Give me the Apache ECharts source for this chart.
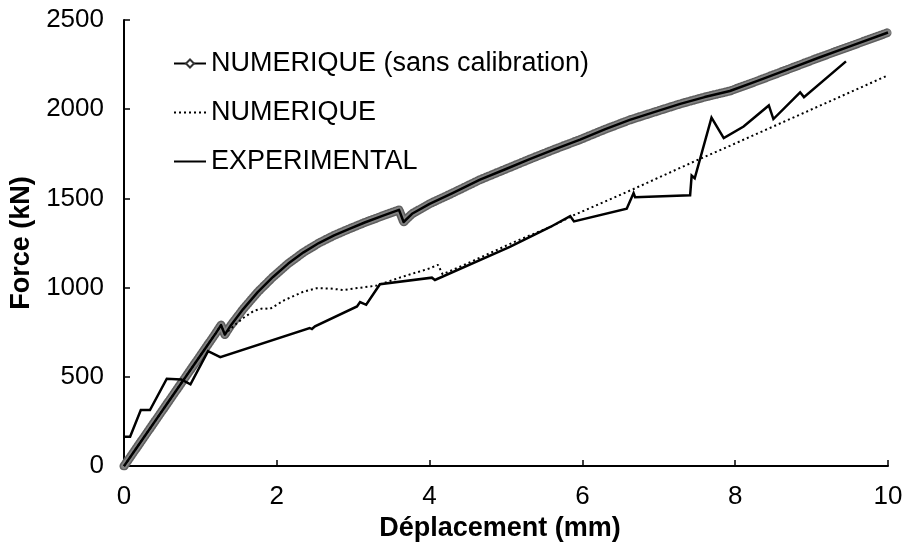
<!DOCTYPE html>
<html>
<head>
<meta charset="utf-8">
<script src="https://cdn.jsdelivr.net/npm/echarts@6/dist/echarts.min.js"></script>
<style>
  html, body { margin: 0; padding: 0; background: #fff; }
  #chart { width: 906px; height: 547px; }
</style>
</head>
<body>
<div id="chart"></div>
<script>
// Force-displacement curves: numerical model without calibration,
// calibrated numerical model, and experimental test.
const seriesNames = ['NUMERIQUE (sans calibration)', 'NUMERIQUE', 'EXPERIMENTAL'];

const xTicks = [0, 2, 4, 6, 8, 10];
const yTicks = [0, 500, 1000, 1500, 2000, 2500];

// [déplacement (mm), force (kN)]
const numSansCalibration = [
  [0, 0], [0.2, 124], [0.4, 248], [0.6, 372], [0.8, 496], [1.0, 620],
  [1.2, 744], [1.27, 790], [1.32, 737], [1.4, 790], [1.56, 880], [1.75, 975],
  [1.95, 1060], [2.15, 1135], [2.35, 1198], [2.55, 1250], [2.75, 1293],
  [2.95, 1330], [3.15, 1365], [3.4, 1405], [3.6, 1436], [3.62, 1440],
  [3.66, 1368], [3.77, 1414], [4.0, 1470], [4.3, 1530], [4.66, 1605],
  [5.0, 1665], [5.31, 1720], [5.65, 1778], [5.97, 1830], [6.3, 1888],
  [6.62, 1940], [7.0, 1992], [7.28, 2030], [7.6, 2068], [7.93, 2102],
  [8.3, 2160], [8.7, 2225], [9.1, 2290], [9.5, 2352], [10, 2430]
];

const numerique = [
  [0, 0], [0.4, 248], [0.8, 496], [1.2, 744], [1.27, 790], [1.32, 740],
  [1.45, 790], [1.56, 830], [1.7, 870], [1.82, 885], [1.91, 881], [2.1, 930],
  [2.35, 978], [2.52, 997], [2.7, 995], [2.87, 987], [3.1, 1000], [3.31, 1012],
  [3.6, 1055], [4.0, 1108], [4.11, 1128], [4.17, 1075], [4.44, 1125],
  [5.14, 1262], [5.58, 1340], [5.88, 1405], [6.67, 1553], [7.54, 1722],
  [7.93, 1795], [9.31, 2058], [10, 2190]
];

const experimental = [
  [0, 165], [0.08, 165], [0.22, 314], [0.34, 314], [0.56, 490], [0.75, 486],
  [0.87, 458], [1.1, 644], [1.26, 611], [2.43, 774], [2.46, 768], [2.5, 783],
  [3.05, 895], [3.09, 919], [3.17, 904], [3.35, 1019], [4.03, 1056],
  [4.07, 1043], [5.05, 1229], [5.58, 1340], [5.84, 1401], [5.89, 1371],
  [6.58, 1442], [6.67, 1530], [6.69, 1507], [7.41, 1518], [7.43, 1628],
  [7.47, 1613], [7.69, 1953], [7.85, 1838], [8.11, 1903], [8.44, 2021],
  [8.5, 1945], [8.85, 2095], [8.9, 2068], [9.45, 2268]
];

const FONT = '"Liberation Sans", Arial, sans-serif';
const chart = echarts.init(document.getElementById('chart'), null, { renderer: 'canvas' });

chart.setOption({
  animation: false,
  backgroundColor: '#fff',
  textStyle: { fontFamily: FONT, color: '#000' },
  grid: { left: 124, right: 18, top: 20, bottom: 78, containLabel: false },
  legend: {
    orient: 'vertical',
    left: 173,
    top: 50,
    padding: 0,
    itemWidth: 32,
    itemHeight: 10,
    itemGap: 22,
    textStyle: { fontFamily: FONT, fontSize: 27, color: '#000' },
    data: [
      { name: seriesNames[0] },
      { name: seriesNames[1], itemStyle: { opacity: 0 } },
      { name: seriesNames[2], itemStyle: { opacity: 0 } }
    ]
  },
  xAxis: {
    type: 'value',
    min: xTicks[0],
    max: xTicks[xTicks.length - 1],
    interval: 2,
    name: 'Déplacement (mm)',
    nameLocation: 'middle',
    nameGap: 41,
    nameTextStyle: { fontFamily: FONT, fontSize: 27, fontWeight: 'bold', color: '#000', padding: [0, 12, 0, 0] },
    axisLine: { lineStyle: { color: '#000', width: 2 } },
    axisTick: { inside: true, length: 6, lineStyle: { color: '#000', width: 1.5 } },
    axisLabel: { fontFamily: FONT, fontSize: 26, color: '#000', margin: 18 },
    splitLine: { show: false }
  },
  yAxis: {
    type: 'value',
    min: yTicks[0],
    max: yTicks[yTicks.length - 1],
    interval: 500,
    name: 'Force (kN)',
    nameLocation: 'middle',
    nameGap: 88,
    nameTextStyle: { fontFamily: FONT, fontSize: 27, fontWeight: 'bold', color: '#000' },
    axisLine: { show: true, lineStyle: { color: '#000', width: 2 } },
    axisTick: { show: true, inside: true, length: 6, lineStyle: { color: '#000', width: 1.5 } },
    axisLabel: { fontFamily: FONT, fontSize: 26, color: '#000', margin: 20, formatter: (v) => String(v) },
    splitLine: { show: false }
  },
  series: [
    {
      // grey halo of the dense markers along the uncalibrated curve
      name: 'halo',
      type: 'line',
      data: numSansCalibration,
      symbol: 'none',
      silent: true,
      z: 1,
      lineStyle: { color: '#5f5f5f', width: 9, type: [1.5, 1.5], cap: 'round', join: 'round' }
    },
    {
      name: 'halo-inner',
      type: 'line',
      data: numSansCalibration,
      symbol: 'none',
      silent: true,
      z: 1,
      lineStyle: { color: '#9a9a9a', width: 6, cap: 'round', join: 'round', opacity: 0.6 }
    },
    {
      name: seriesNames[0],
      type: 'line',
      data: numSansCalibration,
      symbol: 'emptyDiamond',
      symbolSize: 7,
      showSymbol: false,
      z: 3,
      itemStyle: { color: '#333' },
      lineStyle: { color: '#000', width: 2.5, join: 'round' }
    },
    {
      name: seriesNames[1],
      type: 'line',
      data: numerique,
      symbol: 'none',
      z: 2,
      itemStyle: { color: '#000' },
      lineStyle: { color: '#000', width: 2, type: [2, 3] }
    },
    {
      name: seriesNames[2],
      type: 'line',
      data: experimental,
      symbol: 'none',
      z: 4,
      itemStyle: { color: '#000' },
      lineStyle: { color: '#000', width: 2.5, join: 'miter' }
    }
  ]
});
</script>
</body>
</html>
